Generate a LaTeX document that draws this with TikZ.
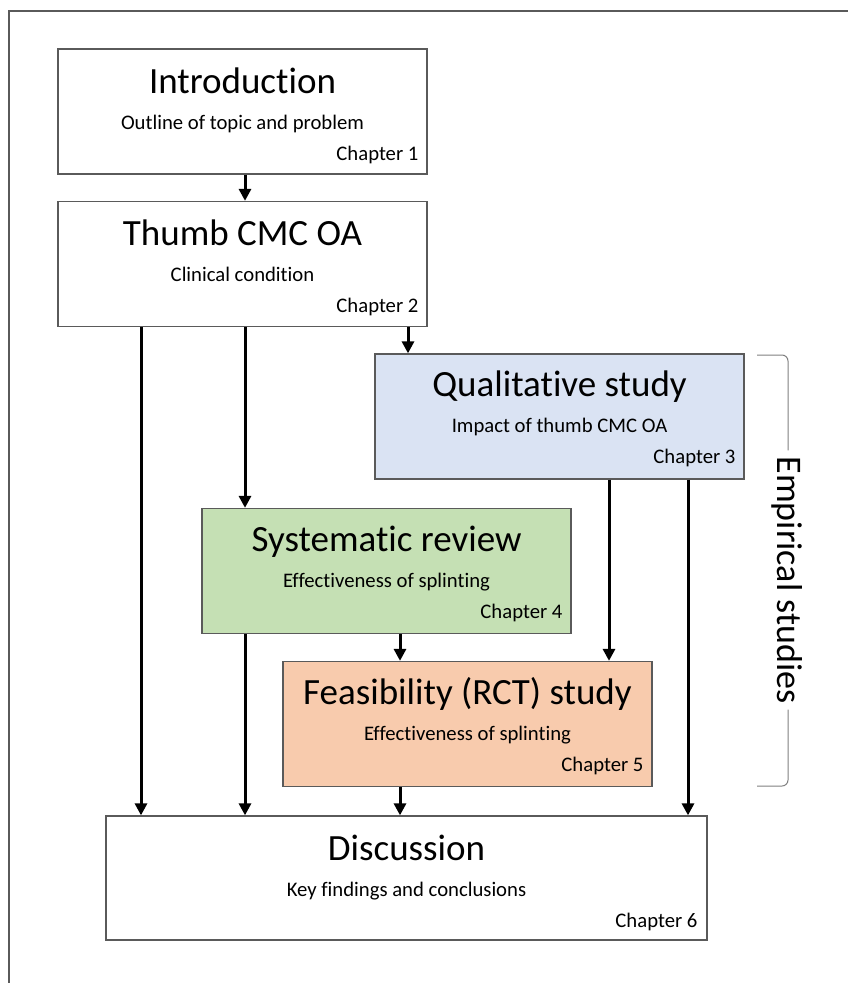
\documentclass[tikz,border=0pt]{standalone}
\usepackage{fontspec}
\setmainfont{Carlito}[Ligatures=NoCommon]
\usetikzlibrary{arrows.meta,positioning,calc}

\definecolor{qualblue}{RGB}{218,227,243}
\definecolor{sysgreen}{RGB}{197,224,180}
\definecolor{feasorange}{RGB}{248,203,173}
\definecolor{edgegray}{RGB}{90,90,90}

\tikzset{
  chapbox/.style={draw=edgegray, line width=1.3pt, minimum width=369pt, minimum height=125pt, inner sep=0pt},
  head/.style={anchor=base, inner sep=0pt, font=\fontsize{37}{40}\selectfont},
  sub/.style={anchor=base, inner sep=0pt, font=\fontsize{20.7}{24}\selectfont},
  chap/.style={anchor=base east, inner sep=0pt, font=\fontsize{20.7}{24}\selectfont},
  flow/.style={line width=3pt, -{Triangle[width=12pt,length=12pt]}},
  brace/.style={draw=gray, line width=1pt},
}

\begin{document}
\begin{tikzpicture}[x=1pt,y=-1pt]
\useasboundingbox (0,0) rectangle (848,983);
\fill[white] (0,0) rectangle (848,983);

% page frame
\draw[edgegray, line width=2pt] (9,983) -- (9,11) -- (848,11);

% columns of the arrows
\coordinate (colA) at (141,0);
\coordinate (colB) at (245,0);
\coordinate (colC) at (400,0);
\coordinate (colD) at (408,0);
\coordinate (colE) at (609,0);
\coordinate (colF) at (688,0);
\coordinate (brk) at (788,0);

% Chapter 1
\node[chapbox] (intro) at (242.5,111.5) {};
\node[head] (introT) at ($(intro.north)+(0,45)$) {Introduction};
\node[sub] (introS) at ($(intro.north)+(0,81)$) {Outline of topic and problem};
\node[chap] (introC) at ($(intro.north east)+(-9,112)$) {Chapter 1};

% Chapter 2
\node[chapbox] (thumb) at (242.5,264) {};
\node[head] (thumbT) at ($(thumb.north)+(0,45)$) {Thumb CMC OA};
\node[sub] (thumbS) at ($(thumb.north)+(0,81)$) {Clinical condition};
\node[chap] (thumbC) at ($(thumb.north east)+(-9,112)$) {Chapter 2};

% Chapter 3
\node[chapbox, fill=qualblue] (qual) at (559.5,416.5) {};
\node[head] (qualT) at ($(qual.north)+(0,43)$) {Qualitative study};
\node[sub] (qualS) at ($(qual.north)+(0,79)$) {Impact of thumb CMC OA};
\node[chap] (qualC) at ($(qual.north east)+(-9,110)$) {Chapter 3};

% Chapter 4
\node[chapbox, fill=sysgreen] (sys) at (386.5,571) {};
\node[head] (sysT) at ($(sys.north)+(0,44)$) {Systematic review};
\node[sub] (sysS) at ($(sys.north)+(0,80)$) {Effectiveness of splinting};
\node[chap] (sysC) at ($(sys.north east)+(-9,111)$) {Chapter 4};

% Chapter 5
\node[chapbox, fill=feasorange] (feas) at (467.5,724) {};
\node[head] (feasT) at ($(feas.north)+(0,44)$) {Feasibility (RCT) study};
\node[sub] (feasS) at ($(feas.north)+(0,80)$) {Effectiveness of splinting};
\node[chap] (feasC) at ($(feas.north east)+(-9,111)$) {Chapter 5};

% Chapter 6
\node[chapbox, minimum width=601pt, minimum height=124pt] (disc) at (406.5,878) {};
\node[head] (discT) at ($(disc.north)+(0,45)$) {Discussion};
\node[sub] (discS) at ($(disc.north)+(0,81)$) {Key findings and conclusions};
\node[chap] (discC) at ($(disc.north east)+(-10,112)$) {Chapter 6};

% arrows
\draw[flow] (intro.south -| colB) -- (thumb.north -| colB);
\draw[flow] (thumb.south -| colA) -- (disc.north -| colA);
\draw[flow] (thumb.south -| colB) -- (sys.north -| colB);
\draw[flow] (thumb.south -| colD) -- (qual.north -| colD);
\draw[flow] (sys.south -| colB) -- (disc.north -| colB);
\draw[flow] (sys.south -| colC) -- (feas.north -| colC);
\draw[flow] (qual.south -| colE) -- (feas.north -| colE);
\draw[flow] (qual.south -| colF) -- (disc.north -| colF);
\draw[flow] (feas.south -| colC) -- (disc.north -| colC);

% bracket
\node[rotate=-90, anchor=base, inner sep=6pt, font=\fontsize{36}{40}\selectfont] (emp) at (777,580) {Empirical studies};
\draw[brace] (757,355) -- (782,355) to[out=0,in=90] (788,361) -- (brk |- emp.west);
\draw[brace] (brk |- emp.east) -- (788,780) to[out=-90,in=0] (782,786) -- (757,786);
\end{tikzpicture}
\end{document}
